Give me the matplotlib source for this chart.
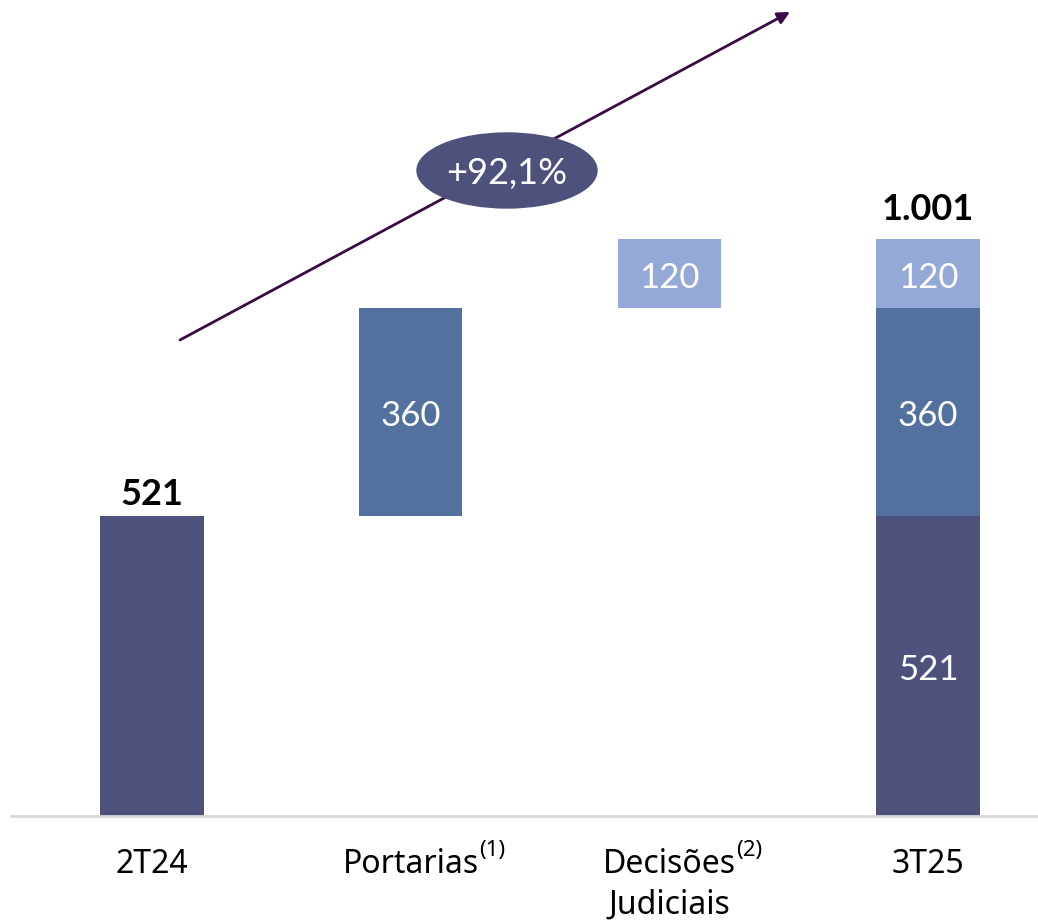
import matplotlib
matplotlib.use('Agg')
import matplotlib.pyplot as plt
import numpy as np
from matplotlib.patches import Ellipse

# waterfall data (R$ milhões)
categories = ['2T24', 'Portarias', 'Decisões', '3T25']
second_line = ['', '', 'Judiciais', '']
superscripts = ['', '(1)', '(2)', '']
start_value = 521
steps = [360, 120]
total_value = 1001
growth_label = '+92,1%'

dark = '#4E517B'
mid = '#52719F'
light = '#95A9D8'
step_colors = [mid, light]

fig = plt.figure(figsize=(10.38, 9.22), dpi=100)
ax = fig.add_axes([0, 0.115, 1, 0.885])
px = 258.7  # pixels per category
ax.set_xlim(-152 / px, (1038 - 152) / px)
ax.set_ylim(0, 816 / 0.5763)
ax.axis('off')

x = np.arange(len(categories))
w = 0.4
num_font = 'Lato'
lab_font = 'Noto Sans'


def inner_label(xc, yc, v):
    ax.annotate(f'{v}', (xc, yc), xytext=(0, -3), textcoords='offset points',
                ha='center', va='center', color='white', fontsize=25,
                family=num_font)


# first bar
ax.bar(x[0], start_value, w, color=dark)
ax.annotate(f'{start_value}', (x[0], start_value), xytext=(0, 8),
            textcoords='offset points', ha='center', va='baseline',
            fontsize=26, fontweight='bold', family=num_font)

# floating steps
bottom = start_value
for i, (v, c) in enumerate(zip(steps, step_colors)):
    ax.bar(x[i + 1], v, w, bottom=bottom, color=c)
    inner_label(x[i + 1], bottom + v / 2, v)
    bottom += v

# stacked total
segments = [start_value] + steps
seg_colors = [dark] + step_colors
bottom = 0
for v, c in zip(segments, seg_colors):
    ax.bar(x[-1], v, w, bottom=bottom, color=c)
    inner_label(x[-1], bottom + v / 2, v)
    bottom += v
ax.annotate(f'{total_value:,}'.replace(',', '.'), (x[-1], total_value),
            xytext=(0, 14), textcoords='offset points', ha='center',
            va='baseline', fontsize=26, fontweight='bold', family=num_font)

# baseline
ax.axhline(0, xmin=11 / 1038, xmax=1, color='#D9D9D9', lw=2, clip_on=False)

# category labels
for xi, cat, sec, sup in zip(x, categories, second_line, superscripts):
    t = ax.annotate(cat, (xi, 0), xytext=(0, -35), textcoords='offset points',
                    ha='center', va='center', fontsize=23, family=lab_font,
                    annotation_clip=False)
    if sup:
        ax.annotate(sup, xy=(1, 0.62), xycoords=t, ha='left', va='bottom',
                    fontsize=16, family=lab_font, annotation_clip=False)
    if sec:
        ax.annotate(sec, (xi, 0), xytext=(0, -64), textcoords='offset points',
                    ha='center', va='center', fontsize=23, family=lab_font,
                    annotation_clip=False)

# growth arrow and bubble
ax.annotate('', xy=((790 - 152) / px, (816 - 12) / 0.5763),
            xytext=((180 - 152) / px, (816 - 340) / 0.5763),
            arrowprops=dict(arrowstyle='-|>', color='#3A0A45', lw=2,
                            mutation_scale=18, shrinkA=0, shrinkB=0))
ell_x = (507 - 152) / px
ell_y = (816 - 170.5) / 0.5763
ax.add_patch(Ellipse((ell_x, ell_y), 180 / px, 75 / 0.5763, color=dark,
                     zorder=3))
ax.annotate(growth_label, (ell_x, ell_y), xytext=(0, -2),
            textcoords='offset points', ha='center', va='center',
            color='white', fontsize=26, family=num_font, zorder=4)

fig.savefig('out.png', dpi=100)
